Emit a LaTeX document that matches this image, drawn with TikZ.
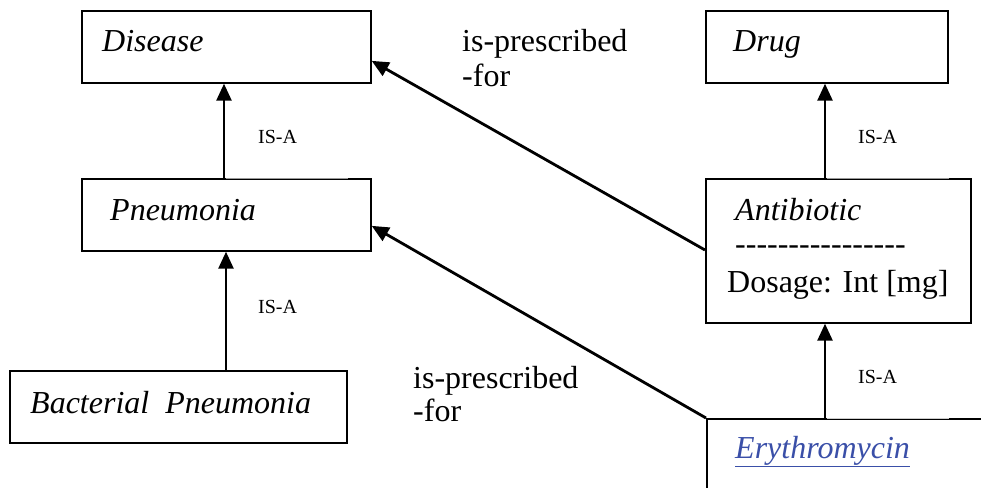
\documentclass[tikz,border=0pt]{standalone}
\usepackage{fontspec}
\setmainfont{Liberation Serif}
\usetikzlibrary{arrows.meta}
\definecolor{linkblue}{HTML}{3A4FA8}
\tikzset{
  box/.style={draw, line width=1.7pt, rectangle, inner sep=0pt, anchor=north west},
  title/.style={anchor=base west, inner sep=0pt, font=\fontsize{32}{37}\selectfont\itshape},
  plain/.style={anchor=base west, inner sep=0pt, font=\fontsize{32}{37}\selectfont},
  small/.style={anchor=base west, inner sep=0pt, font=\fontsize{20}{24}\selectfont},
  isa/.style={line width=2.6pt, -{Triangle[length=17pt,width=15pt]}},
  rel/.style={line width=2.8pt, -{Triangle[length=17pt,width=15pt]}},
  faint/.style={line width=1pt, draw=gray!80},
  fainter/.style={line width=1pt, draw=gray!40}
}
\begin{document}
\begin{tikzpicture}[x=1pt,y=-1pt]
\useasboundingbox (0,0) rectangle (981,487);
\begin{scope}
\clip (0,0) rectangle (981,487);
% boxes
\node[box, minimum width=289pt, minimum height=72pt] (dis) at (81,10) {};
\node[box, minimum width=289pt, minimum height=72pt] (pneu) at (81,178) {};
\node[box, minimum width=337pt, minimum height=72pt] (bact) at (9,370) {};
\node[box, minimum width=242pt, minimum height=72pt] (drug) at (705,10) {};
\node[box, minimum width=265pt, minimum height=144pt] (anti) at (705,178) {};
\node[box, minimum width=300pt, minimum height=120pt] (ery) at (706,418) {};
% connectors
\draw[isa] (pneu.north west) ++(143,0) coordinate (p1) -- (p1 |- dis.south);
\draw[isa] (bact.north west) ++(217,0) coordinate (b1) -- (b1 |- pneu.south);
\draw[isa] (anti.north west) ++(120,0) coordinate (a1) -- (a1 |- drug.south);
\draw[isa] (ery.north west) ++(119,0) coordinate (e1) -- (e1 |- anti.south);
\draw[rel] (anti.north west) ++(0,72) coordinate (a2) -- ([yshift=-14pt]dis.east);
\draw[rel] (ery.north west) -- ([yshift=-11pt]pneu.east);
% faint parts of top edges
\draw[white, line width=2.5pt] ([xshift=1.5pt]p1) -- ([xshift=-24pt]pneu.north east);
\draw[faint] ([xshift=1.5pt]p1) -- ([xshift=-24pt]pneu.north east);
\draw[white, line width=2.5pt] ([xshift=1.5pt]a1) -- ([xshift=-23pt]anti.north east);
\draw[faint] ([xshift=1.5pt]a1) -- ([xshift=-23pt]anti.north east);
\draw[white, line width=2.5pt] ([xshift=1.5pt]e1) -- ([xshift=947pt-1006pt]ery.north east);
\draw[fainter] ([xshift=1.5pt]e1) -- ([xshift=947pt-1006pt]ery.north east);
% texts
\node[title] (tdis) at (102,52) {Disease};
\node[title] (tpneu) at (110,220) {Pneumonia};
\node[title] (tbact) at (30,413) {Bacterial\ \ Pneumonia};
\node[title] (tdrug) at (733,52) {Drug};
\node[title] (tanti) at (735,220) {Antibiotic};
\node[plain] (tdash) at (735,254) {-{}-{}-{}-{}-{}-{}-{}-{}-{}-{}-{}-{}-{}-{}-{}-{}};
\node[plain] (tdose) at (727,292) {Dosage: Int [mg]};
\node[title, text=linkblue] (tery) at (735,458) {\underline{Erythromycin}};
% labels
\node[plain] (l1a) at (462,52) {is-prescribed};
\node[plain] (l1b) at (462,86) {-for};
\node[plain] (l2a) at (413,388) {is-prescribed};
\node[plain] (l2b) at (413,421) {-for};
\node[small] (i1) at (258,143) {IS-A};
\node[small] (i2) at (258,313) {IS-A};
\node[small] (i3) at (858,143) {IS-A};
\node[small] (i4) at (858,383) {IS-A};
\end{scope}
\end{tikzpicture}
\end{document}
